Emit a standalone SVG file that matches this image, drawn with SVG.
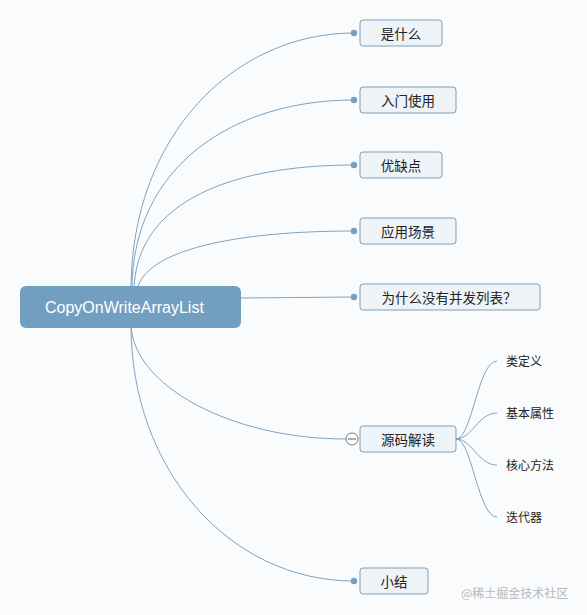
<svg xmlns="http://www.w3.org/2000/svg" width="587" height="615" viewBox="0 0 587 615">
<style>
.bg{fill:#fafbfc}
.c{fill:none;stroke:#7fa3c0;stroke-width:1}
.dot{fill:#7b9fbe}
.box{fill:#eef3f8;stroke:#7a9fbd;stroke-width:1}
.lbl{font-family:"Noto Sans CJK SC","Liberation Sans",sans-serif;font-size:13.5px;fill:#222;text-anchor:middle;dominant-baseline:central}
.sub{font-family:"Noto Sans CJK SC","Liberation Sans",sans-serif;font-size:12px;fill:#222;dominant-baseline:central}
</style>
<rect class="bg" x="0" y="0" width="587" height="615"/>
<g id="connectors">
<path class="c" d="M131,290 C131,135 235,33 354,33"/>
<path class="c" d="M132,290 C132,165 235,100 354,100"/>
<path class="c" d="M134,290 C136,200 235,165 354,165"/>
<path class="c" d="M137,290 C145,250 235,231 354,231"/>
<path class="c" d="M241,298 L354,297"/>
<path class="c" d="M131,325 C133,385 230,439 346,439"/>
<path class="c" d="M131,325 C131,470 230,581 354,581"/>
<path class="c" d="M456,439 C472,439 478,361 497,361"/>
<path class="c" d="M456,439 C472,439 478,413 497,413"/>
<path class="c" d="M456,439 C472,439 478,465 497,465"/>
<path class="c" d="M456,439 C472,439 478,517 497,517"/>
<circle class="dot" cx="354" cy="33" r="3.2"/>
<circle class="dot" cx="354" cy="100" r="3.2"/>
<circle class="dot" cx="354" cy="165" r="3.2"/>
<circle class="dot" cx="354" cy="231" r="3.2"/>
<circle class="dot" cx="354" cy="297" r="3.2"/>
<circle class="dot" cx="354" cy="581" r="3.2"/>
</g>
<g id="root">
<rect x="20" y="286" width="221" height="42" rx="6" fill="#729fbf"/>
<text x="45" y="307" font-family="Liberation Sans, Arial, sans-serif" font-size="16" fill="#fff" dominant-baseline="central">CopyOnWriteArrayList</text>
</g>
<g id="n1"><rect class="box" x="360" y="20" width="82" height="26" rx="3"/><text class="lbl" x="401" y="33">是什么</text></g>
<g id="n2"><rect class="box" x="360" y="87" width="96" height="26" rx="3"/><text class="lbl" x="408" y="100">入门使用</text></g>
<g id="n3"><rect class="box" x="360" y="152" width="82" height="26" rx="3"/><text class="lbl" x="401" y="165">优缺点</text></g>
<g id="n4"><rect class="box" x="360" y="218" width="96" height="26" rx="3"/><text class="lbl" x="408" y="231">应用场景</text></g>
<g id="n5"><rect class="box" x="360" y="284" width="180" height="26" rx="3"/><text class="lbl" x="449" y="297">为什么没有并发列表？</text></g>
<g id="n6"><rect class="box" x="360" y="426" width="96" height="26" rx="3"/><text class="lbl" x="408" y="439">源码解读</text>
<circle cx="352" cy="439" r="6" fill="#fff" stroke="#777" stroke-width="1"/><line x1="348" y1="439" x2="356" y2="439" stroke="#555" stroke-width="1"/></g>
<g id="n7"><rect class="box" x="360" y="568" width="68" height="26" rx="3"/><text class="lbl" x="394" y="581">小结</text></g>
<g id="s1"><text class="sub" x="506" y="360">类定义</text></g>
<g id="s2"><text class="sub" x="506" y="412">基本属性</text></g>
<g id="s3"><text class="sub" x="506" y="464">核心方法</text></g>
<g id="s4"><text class="sub" x="506" y="516">迭代器</text></g>
<text x="461" y="592" font-family="Noto Sans CJK SC, Liberation Sans, sans-serif" font-size="12" fill="#b4b9c0" dominant-baseline="central">@稀土掘金技术社区</text>
</svg>
